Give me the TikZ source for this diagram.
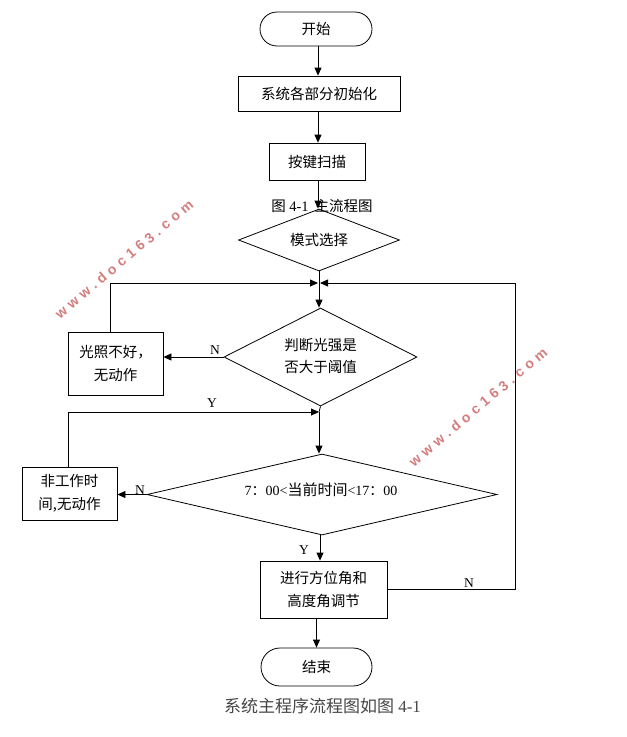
\documentclass[tikz,border=0pt]{standalone}
\usepackage{fontspec}
\setmainfont{Liberation Serif}
\newfontfamily\cjk{Noto Sans CJK SC}
\newfontfamily\wmfont[LetterSpace=32]{Liberation Sans}
\usetikzlibrary{arrows.meta,shapes.geometric}
\definecolor{wmred}{RGB}{212,125,125}
\definecolor{capgrey}{RGB}{70,70,70}
\tikzset{
  ln/.style={line width=0.8pt},
  arr/.style={ln,-{Triangle[length=8pt,width=7pt]}},
  box/.style={draw,ln,inner sep=0pt,align=center,font=\fontsize{14.5}{23.5}\selectfont\cjk},
  dia/.style={draw,ln,diamond,inner sep=0pt},
  dtext/.style={inner sep=0pt,align=center,font=\fontsize{14.5}{22}\selectfont\cjk},
  lab/.style={inner sep=0pt,font=\fontsize{13.5}{14}\selectfont},
  wm/.style={inner sep=0pt,text=wmred,rotate=40,font=\fontsize{14}{14}\selectfont\wmfont\bfseries},
}
\begin{document}
\begin{tikzpicture}[x=1pt,y=-1pt]
\useasboundingbox (0,0) rectangle (627,737);
% watermarks
\node[wm] (wm1) at (124,259) {www.doc163.com};
\node[wm] (wm2) at (478,407) {www.doc163.com};
% nodes
\node[box,rounded corners=17pt,minimum width=112pt,minimum height=34pt] (s) at (316,29) {开始};
\node[box,minimum width=162pt,minimum height=35pt] (b1) at (319,93.5) {系统各部分初始化};
\node[box,minimum width=96pt,minimum height=37pt] (b2) at (317,161.5) {按键扫描};
\node[dia,minimum width=161pt,minimum height=62pt] (d1) at (319,240) {};
\node[dtext] (d1t) at (d1) {模式选择};
\node[dia,minimum width=193pt,minimum height=98pt] (d2) at (320.5,357) {};
\node[dtext] (d2t) at (320.5,356) {判断光强是\\否大于阈值};
\node[box,minimum width=95pt,minimum height=63pt] (g) at (115.5,363.5) {光照不好，\\无动作};
\node[dia,minimum width=350pt,minimum height=81pt] (d3) at (322,494.5) {};
\node[dtext] (d3t) at (321,490) {\rmfamily\fontsize{14}{14}\selectfont 7{\cjk ：}00<{\cjk\fontsize{15}{14}\selectfont 当前时间}<17{\cjk ：}00};
\node[box,minimum width=95pt,minimum height=53pt] (f) at (69.5,493.5) {非工作时\\间,无动作};
\node[box,minimum width=127pt,minimum height=57pt] (a) at (323.5,589.5) {进行方位角和\\高度角调节};
\node[box,rounded corners=19pt,minimum width=111pt,minimum height=38pt] (e) at (316.5,667) {结束};
% captions
\node[inner sep=0pt,font=\fontsize{14.5}{15}\selectfont] (c1) at (322,206) {{\cjk 图} 4-1\hspace{6pt}{\cjk 主流程图}};
\node[inner sep=0pt,text=capgrey,font=\fontsize{17}{18}\selectfont] (c2) at (322.5,706) {{\cjk 系统主程序流程图如图} 4-1};
% junction coordinates
\coordinate (J) at (319,283);
\coordinate (R) at (515,283);
\coordinate (K) at (319,412);
% connectors
\draw[arr] (s.south -| 318,0) -- (b1.north -| 318,0);
\draw[arr] (b1.south -| 318,0) -- (b2.north -| 318,0);
\draw[arr] (b2.south -| 318,0) -- (d1.north -| 318,0);
\draw[ln] (d1.south) -- (J);
\draw[arr] ([xshift=-5pt]g.north) |- ([xshift=-1pt]J);
\draw[arr] (a.east) -| (R) -- ([xshift=1pt]J);
\draw[arr] (J) -- (d2.north -| J);
\draw[arr] (d2.west) -- (d2.west -| g.east);
\draw[ln] (d2.south) -- (K);
\draw[arr] ([xshift=-1pt]f.north) |- (K);
\draw[arr] (K) -- (K |- d3.north);
\draw[arr] (d3.west) -- (d3.west -| f.east);
\draw[arr] (d3.south -| 320,0) -- (a.north -| 320,0);
\draw[arr] (e.north |- a.south) -- (e.north);
% labels
\node[lab] (n1) at (215,350) {N};
\node[lab] (y1) at (212,403) {Y};
\node[lab] (n2) at (140,490) {N};
\node[lab] (y2) at (304,550) {Y};
\node[lab] (n3) at (469,583) {N};
\end{tikzpicture}
\end{document}
